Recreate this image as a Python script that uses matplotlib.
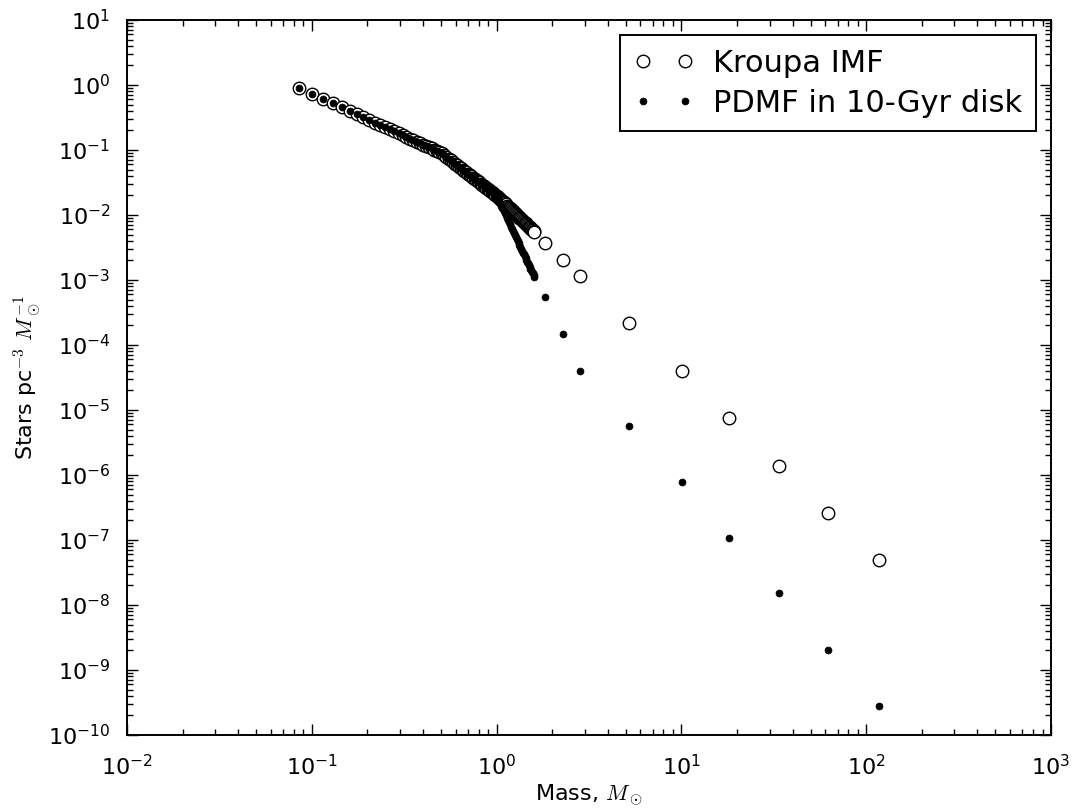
import matplotlib
matplotlib.use("Agg")
import matplotlib.pyplot as plt
from matplotlib.ticker import LogLocator, NullFormatter

plt.rcParams['font.family'] = ['DejaVu Sans']
plt.rcParams['mathtext.fontset'] = 'cm'
plt.rcParams['axes.unicode_minus'] = False

# Dense mass grid (solar masses)
mass_dense = [0.085, 0.100, 0.115, 0.130, 0.145, 0.160, 0.175, 0.190, 0.205, 0.220,
              0.235, 0.250, 0.265, 0.280, 0.295, 0.310, 0.325, 0.340, 0.355, 0.370,
              0.385, 0.400, 0.415, 0.430, 0.445, 0.460, 0.475, 0.490, 0.505, 0.520,
              0.535, 0.550, 0.565, 0.580, 0.595, 0.610, 0.625, 0.640, 0.655, 0.670,
              0.685, 0.700, 0.715, 0.730, 0.745, 0.760, 0.775, 0.790, 0.805, 0.820,
              0.835, 0.850, 0.865, 0.880, 0.895, 0.910, 0.925, 0.940, 0.955, 0.970,
              0.985, 1.000, 1.015, 1.030, 1.045, 1.060, 1.075, 1.090, 1.105, 1.120,
              1.135, 1.150, 1.165, 1.180, 1.195, 1.210, 1.225, 1.240, 1.255, 1.270,
              1.285, 1.300, 1.315, 1.330, 1.345, 1.360, 1.375, 1.390, 1.405, 1.420,
              1.435, 1.450, 1.465, 1.480, 1.495, 1.510, 1.525, 1.540, 1.555, 1.570,
              1.585, 1.600]
# Sparse high-mass grid
mass_sparse = [1.83, 2.30, 2.83, 5.23, 10.1, 18.1, 33.8, 62.2, 117.5]

# Kroupa IMF (stars pc^-3 Msun^-1)
kroupa_dense = [0.907, 0.734, 0.612, 0.522, 0.453, 0.398, 0.355, 0.319, 0.289, 0.263,
                0.242, 0.223, 0.207, 0.193, 0.180, 0.169, 0.159, 0.150, 0.142, 0.134,
                0.127, 0.121, 0.1155, 0.110, 0.1055, 0.101, 0.0969, 0.0930, 0.0886, 0.0831,
                0.0781, 0.0735, 0.0692, 0.0654, 0.0618, 0.0585, 0.0554, 0.0526, 0.0500, 0.0476,
                0.0453, 0.0432, 0.0412, 0.0394, 0.0377, 0.0361, 0.0345, 0.0331, 0.0318, 0.0305,
                0.0293, 0.0282, 0.0271, 0.0261, 0.0252, 0.0243, 0.0234, 0.0226, 0.0218, 0.0211,
                0.0204, 0.0197, 0.01892, 0.01819, 0.01749, 0.01683, 0.01621, 0.01561, 0.01504, 0.01451,
                0.01400, 0.01351, 0.01304, 0.01260, 0.01218, 0.01177, 0.01139, 0.01102, 0.01067, 0.01033,
                0.01001, 0.00970, 0.00941, 0.00912, 0.00885, 0.00859, 0.00834, 0.00810, 0.00786, 0.00764,
                0.00743, 0.00722, 0.00703, 0.00684, 0.00665, 0.00648, 0.00630, 0.00614, 0.00598, 0.00583,
                0.00568, 0.00554]
kroupa_sparse = [3.75e-3, 2.03e-3, 1.16e-3, 2.16e-4, 3.98e-5, 7.5e-6, 1.37e-6, 2.6e-7, 4.9e-8]

# Present-day mass function in a 10-Gyr disk (equal to IMF below 1 Msun)
pdmf_above_1 = [0.01799, 0.01645, 0.01506, 0.01381, 0.01268, 0.01165, 0.01071, 0.00987,
                0.00910, 0.00840, 0.00776, 0.00718, 0.00665, 0.00616, 0.00571, 0.00530,
                0.00493, 0.00458, 0.00427, 0.00397, 0.00371, 0.00346, 0.00323, 0.00302,
                0.00282, 0.00264, 0.00247, 0.00232, 0.00218, 0.00204, 0.00192, 0.00180,
                0.00170, 0.00160, 0.00150, 0.00141, 0.00133, 0.00126, 0.00119, 0.00112]
n_low = len(mass_dense) - len(pdmf_above_1)
pdmf_dense = kroupa_dense[:n_low] + pdmf_above_1
pdmf_sparse = [5.4e-4, 1.48e-4, 4.0e-5, 5.7e-6, 7.8e-7, 1.07e-7, 1.53e-8, 2.03e-9, 2.8e-10]

mass = mass_dense + mass_sparse
kroupa = kroupa_dense + kroupa_sparse
pdmf = pdmf_dense + pdmf_sparse

fig = plt.figure(figsize=(10.73, 8.11), dpi=100)
ax = fig.add_axes([127/1073, 1 - 735/811, (1051 - 127)/1073, (735 - 20)/811])

ax.plot(mass, kroupa, linestyle='none', marker='o', markersize=9,
        markerfacecolor='white', markeredgecolor='black', markeredgewidth=1.0,
        label='Kroupa IMF')
ax.plot(mass, pdmf, linestyle='none', marker='o', markersize=5,
        markerfacecolor='black', markeredgecolor='black', markeredgewidth=0.5,
        label='PDMF in 10-Gyr disk')

ax.set_xscale('log')
ax.set_yscale('log')
ax.set_xlim(1e-2, 1e3)
ax.set_ylim(1e-10, 1e1)
ax.xaxis.set_major_locator(LogLocator(base=10, numticks=20))
ax.yaxis.set_major_locator(LogLocator(base=10, numticks=20))
ax.xaxis.set_minor_locator(LogLocator(base=10, subs=range(2, 10), numticks=100))
ax.yaxis.set_minor_locator(LogLocator(base=10, subs=range(2, 10), numticks=100))
ax.yaxis.set_minor_formatter(NullFormatter())
ax.xaxis.set_minor_formatter(NullFormatter())

ax.tick_params(which='both', direction='in', top=True, right=True, labelsize=16, width=1.0)
ax.tick_params(which='major', length=8)
ax.tick_params(which='minor', length=4)
ax.tick_params(axis='y', which='major', pad=12)
ax.tick_params(axis='x', which='major', pad=14)
for s in ax.spines.values():
    s.set_linewidth(1.4)

ax.set_xlabel(r'Mass, $M_\odot$', fontsize=16, labelpad=2)
ax.set_ylabel(r'Stars pc$^{-3}$ $M_\odot^{-1}$', fontsize=16, labelpad=4)

leg = ax.legend(loc='upper right', numpoints=2, fontsize=22, fancybox=False,
                edgecolor='black', framealpha=1, borderaxespad=0.5,
                handletextpad=0.6, borderpad=0.45, labelspacing=0.35)
leg.get_frame().set_linewidth(1.4)

fig.savefig('out.png', dpi=100)
